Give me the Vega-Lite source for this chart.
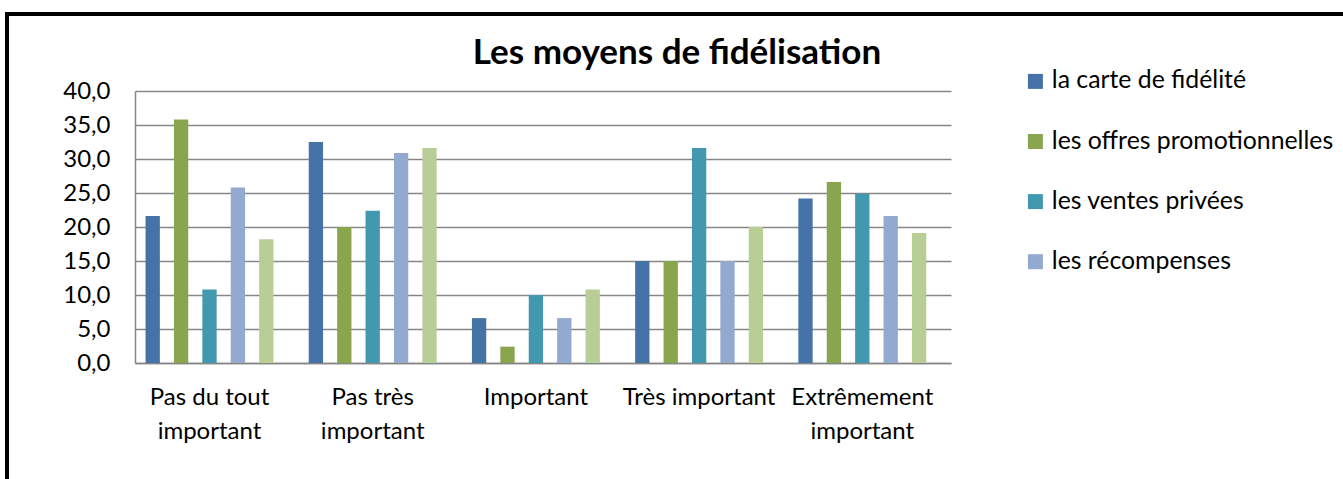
{
  "$schema": "https://vega.github.io/schema/vega-lite/v6.json",
  "width": 1336,
  "height": 465,
  "autosize": {"type": "none"},
  "padding": {"left": 7, "top": 14, "right": 0, "bottom": 0},
  "background": "white",
  "title": {
    "text": "Les moyens de fidélisation",
    "anchor": "middle",
    "frame": "group",
    "orient": "top",
    "offset": -85,
    "baseline": "alphabetic",
    "fontSize": 35,
    "font": "Lato",
    "fontWeight": "bold",
    "color": "black",
    "dx": 2
  },
  "data": {
    "values": [
      {"niveau": "Pas du tout important", "moyen": "la carte de fidélité", "pourcentage": 21.6},
      {"niveau": "Pas du tout important", "moyen": "les offres promotionnelles", "pourcentage": 35.8},
      {"niveau": "Pas du tout important", "moyen": "les ventes privées", "pourcentage": 10.8},
      {"niveau": "Pas du tout important", "moyen": "les récompenses", "pourcentage": 25.8},
      {"niveau": "Pas du tout important", "moyen": "autres", "pourcentage": 18.2},
      {"niveau": "Pas très important", "moyen": "la carte de fidélité", "pourcentage": 32.5},
      {"niveau": "Pas très important", "moyen": "les offres promotionnelles", "pourcentage": 20.0},
      {"niveau": "Pas très important", "moyen": "les ventes privées", "pourcentage": 22.4},
      {"niveau": "Pas très important", "moyen": "les récompenses", "pourcentage": 30.9},
      {"niveau": "Pas très important", "moyen": "autres", "pourcentage": 31.6},
      {"niveau": "Important", "moyen": "la carte de fidélité", "pourcentage": 6.6},
      {"niveau": "Important", "moyen": "les offres promotionnelles", "pourcentage": 2.4},
      {"niveau": "Important", "moyen": "les ventes privées", "pourcentage": 10.0},
      {"niveau": "Important", "moyen": "les récompenses", "pourcentage": 6.6},
      {"niveau": "Important", "moyen": "autres", "pourcentage": 10.8},
      {"niveau": "Très important", "moyen": "la carte de fidélité", "pourcentage": 15.0},
      {"niveau": "Très important", "moyen": "les offres promotionnelles", "pourcentage": 15.0},
      {"niveau": "Très important", "moyen": "les ventes privées", "pourcentage": 31.6},
      {"niveau": "Très important", "moyen": "les récompenses", "pourcentage": 15.0},
      {"niveau": "Très important", "moyen": "autres", "pourcentage": 20.0},
      {"niveau": "Extrêmement important", "moyen": "la carte de fidélité", "pourcentage": 24.2},
      {"niveau": "Extrêmement important", "moyen": "les offres promotionnelles", "pourcentage": 26.6},
      {"niveau": "Extrêmement important", "moyen": "les ventes privées", "pourcentage": 24.9},
      {"niveau": "Extrêmement important", "moyen": "les récompenses", "pourcentage": 21.6},
      {"niveau": "Extrêmement important", "moyen": "autres", "pourcentage": 19.1}
    ]
  },
  "mark": {"type": "bar"},
  "encoding": {
    "x": {
      "field": "niveau",
      "type": "nominal",
      "sort": ["Pas du tout important", "Pas très important", "Important", "Très important", "Extrêmement important"],
      "scale": {"range": [128, 944], "paddingInner": 0.087, "paddingOuter": 0.0435, "align": 0},
      "axis": {
        "orient": "bottom",
        "offset": -116,
        "title": null,
        "ticks": false,
        "grid": false,
        "domainColor": "#868686",
        "domainWidth": 1.5,
        "labelAngle": 0,
        "labelFont": "Lato",
        "labelFontSize": 24,
        "labelColor": "black",
        "labelPadding": 22,
        "labelLineHeight": 34,
        "labelLimit": 0,
        "labelExpr": "datum.value == 'Pas du tout important' ? ['Pas du tout', 'important'] : datum.value == 'Pas très important' ? ['Pas très', 'important'] : datum.value == 'Extrêmement important' ? ['Extrêmement', 'important'] : datum.value"
      }
    },
    "xOffset": {
      "field": "moyen",
      "sort": ["la carte de fidélité", "les offres promotionnelles", "les ventes privées", "les récompenses", "autres"],
      "scale": {"paddingInner": 0.496, "paddingOuter": 0.371}
    },
    "y": {
      "field": "pourcentage",
      "type": "quantitative",
      "scale": {"domain": [0, 40], "range": [349, 77], "nice": false},
      "axis": {
        "offset": -128,
        "title": null,
        "ticks": false,
        "values": [0, 5, 10, 15, 20, 25, 30, 35, 40],
        "grid": true,
        "gridColor": "#868686",
        "gridWidth": 1.5,
        "domainColor": "#868686",
        "domainWidth": 1.5,
        "labelFont": "Lato",
        "labelFontSize": 24,
        "labelColor": "black",
        "labelPadding": 25,
        "labelExpr": "replace(format(datum.value, '.1f'), '.', ',')"
      }
    },
    "color": {
      "field": "moyen",
      "type": "nominal",
      "scale": {
        "domain": ["la carte de fidélité", "les offres promotionnelles", "les ventes privées", "les récompenses", "autres"],
        "range": ["#4572A7", "#89A54E", "#4198AF", "#94A9CF", "#B9CD96"]
      },
      "legend": {
        "orient": "none",
        "legendX": 1016,
        "legendY": 55,
        "title": null,
        "values": ["la carte de fidélité", "les offres promotionnelles", "les ventes privées", "les récompenses"],
        "symbolType": "square",
        "symbolSize": 225,
        "symbolStrokeWidth": 0,
        "symbolOpacity": 1,
        "labelFont": "Lato",
        "labelFontSize": 24.8,
        "labelColor": "black",
        "labelOffset": 4,
        "labelLimit": 0,
        "rowPadding": 34.1,
        "padding": 0,
        "labelExpr": "datum.label == 'la carte de fidélité' ? '\u00a0la carte de fidélité' : datum.label"
      }
    }
  },
  "config": {
    "view": {"stroke": "black", "strokeWidth": 4, "strokeDash": [1336, 1801, 470, 1]}
  }
}
